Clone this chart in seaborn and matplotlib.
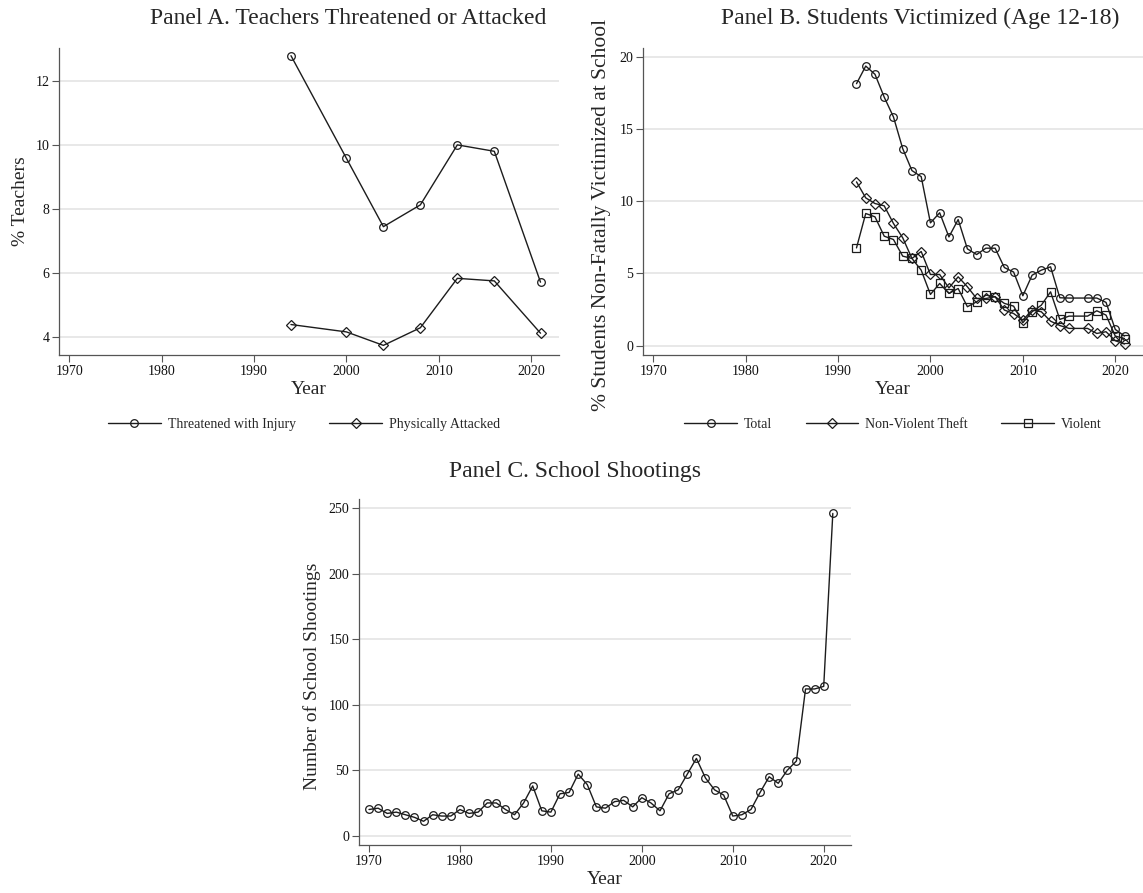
import matplotlib
matplotlib.use('Agg')
import matplotlib.pyplot as plt
import seaborn as sns
import pandas as pd

# Panel A: teachers threatened / attacked (%)
teacher_years = [1994, 2000, 2004, 2008, 2012, 2016, 2021]
threatened = [12.78, 9.58, 7.45, 8.13, 10.0, 9.8, 5.72]
attacked = [4.4, 4.17, 3.75, 4.3, 5.84, 5.76, 4.13]

# Panel B: students victimized at school (%), no 2016 survey
student_years = [1992, 1993, 1994, 1995, 1996, 1997, 1998, 1999, 2000, 2001,
                 2002, 2003, 2004, 2005, 2006, 2007, 2008, 2009, 2010, 2011,
                 2012, 2013, 2014, 2015, 2017, 2018, 2019, 2020, 2021]
total = [18.13, 19.35, 18.78, 17.2, 15.83, 13.64, 12.12, 11.7, 8.5, 9.2,
         7.53, 8.73, 6.7, 6.31, 6.75, 6.75, 5.41, 5.1, 3.46, 4.88,
         5.23, 5.46, 3.32, 3.3, 3.3, 3.3, 3.0, 1.13, 0.67]
theft = [11.34, 10.23, 9.84, 9.68, 8.46, 7.47, 6.04, 6.52, 4.93, 4.93,
         4.0, 4.77, 4.08, 3.27, 3.27, 3.39, 2.47, 2.23, 1.77, 2.47,
         2.35, 1.7, 1.4, 1.2, 1.2, 0.85, 0.97, 0.35, 0.12]
violent = [6.77, 9.15, 8.92, 7.58, 7.35, 6.2, 6.04, 5.23, 3.55, 4.31,
           3.62, 3.96, 2.7, 3.04, 3.5, 3.39, 2.93, 2.74, 1.59, 2.35,
           2.81, 3.73, 1.82, 2.05, 2.05, 2.42, 2.12, 0.67, 0.5]

# Panel C: school shootings per year
shoot_years = list(range(1970, 2022))
shootings = [20, 21, 17, 18, 16, 14, 11, 16, 15, 15,
             20, 17, 18, 25, 25, 20, 16, 25, 38, 19,
             18, 32, 33, 47, 39, 22, 21, 26, 27, 22,
             29, 25, 19, 32, 35, 47, 59, 44, 35, 31,
             15, 16, 20, 33, 45, 40, 50, 57, 112, 112,
             114, 246]

x_ticks = [1970, 1980, 1990, 2000, 2010, 2020]

sns.set_style('white')
plt.rcParams['font.family'] = ['Liberation Serif', 'DejaVu Serif']

LINE = '#1c1c1c'
SPINE = '#555555'
GRID = '#e6e6e6'


def draw_series(ax, x, y, marker, size, label):
    sns.lineplot(x=x, y=y, ax=ax, color=LINE, linewidth=1.0, marker=marker,
                 markersize=size, markerfacecolor='none', markeredgecolor=LINE,
                 markeredgewidth=0.9, label=label, zorder=3)


def style_axes(ax, yticks, ylim, ylabel, ylab_size, ylab_xy):
    ax.set_xlim(1968.9, 2023)
    ax.set_ylim(*ylim)
    ax.set_xticks(x_ticks)
    ax.set_yticks(yticks)
    ax.grid(False)
    for yt in yticks:
        ax.axhline(yt, color=GRID, lw=1.3, zorder=0)
    for s in ['top', 'right']:
        ax.spines[s].set_visible(False)
    for s in ['left', 'bottom']:
        ax.spines[s].set_color(SPINE)
        ax.spines[s].set_linewidth(0.9)
    ax.tick_params(axis='both', direction='out', length=5, width=0.8,
                   color=SPINE, labelsize=10, pad=2, labelcolor='#111111')
    ax.tick_params(left=True, bottom=True)
    ax.set_xlabel('Year', fontsize=14, labelpad=2)
    ax.set_ylabel(ylabel, fontsize=ylab_size)
    ax.yaxis.set_label_coords(*ylab_xy)


W, H = 1143, 893
fig = plt.figure(figsize=(W / 100, H / 100), dpi=100)

ax_a = fig.add_axes([59 / W, 1 - 355 / H, 500 / W, 307 / H])
ax_b = fig.add_axes([643 / W, 1 - 355 / H, 500 / W, 307 / H])
ax_c = fig.add_axes([359 / W, 1 - 845 / H, 492 / W, 346 / H])

# Panel A
draw_series(ax_a, teacher_years, threatened, 'o', 5.5, 'Threatened with Injury')
draw_series(ax_a, teacher_years, attacked, 'D', 4.8, 'Physically Attacked')
style_axes(ax_a, [4, 6, 8, 10, 12], (3.45, 13.02), '% Teachers', 14,
           (-0.059, 0.5))
ax_a.legend(loc='center', bbox_to_anchor=(0.49, -0.225), ncol=2, frameon=False,
            fontsize=10, handlelength=3.8, columnspacing=2.4,
            handletextpad=0.5, numpoints=1)

# Panel B
draw_series(ax_b, student_years, total, 'o', 5.5, 'Total')
draw_series(ax_b, student_years, theft, 'D', 4.8, 'Non-Violent Theft')
draw_series(ax_b, student_years, violent, 's', 5.3, 'Violent')
style_axes(ax_b, [0, 5, 10, 15, 20], (-0.64, 20.6),
           '% Students Non-Fatally Victimized at School', 15.5, (-0.064, 0.455))
ax_b.legend(loc='center', bbox_to_anchor=(0.5, -0.225), ncol=3, frameon=False,
            fontsize=10, handlelength=3.8, columnspacing=2.4,
            handletextpad=0.5, numpoints=1)

# Panel C
draw_series(ax_c, shoot_years, shootings, 'o', 5.5, None)
style_axes(ax_c, [0, 50, 100, 150, 200, 250], (-7.1, 257),
           'Number of School Shootings', 14, (-0.077, 0.487))
if ax_c.get_legend() is not None:
    ax_c.get_legend().remove()

fig.text(348 / W, 1 - 18 / H, 'Panel A. Teachers Threatened or Attacked',
         ha='center', va='center', fontsize=17)
fig.text(920 / W, 1 - 18 / H, 'Panel B. Students Victimized (Age 12-18)',
         ha='center', va='center', fontsize=17)
fig.text(575 / W, 1 - 472 / H, 'Panel C. School Shootings',
         ha='center', va='center', fontsize=17)

fig.savefig('out.png', dpi=100, facecolor='white')
plt.close(fig)
